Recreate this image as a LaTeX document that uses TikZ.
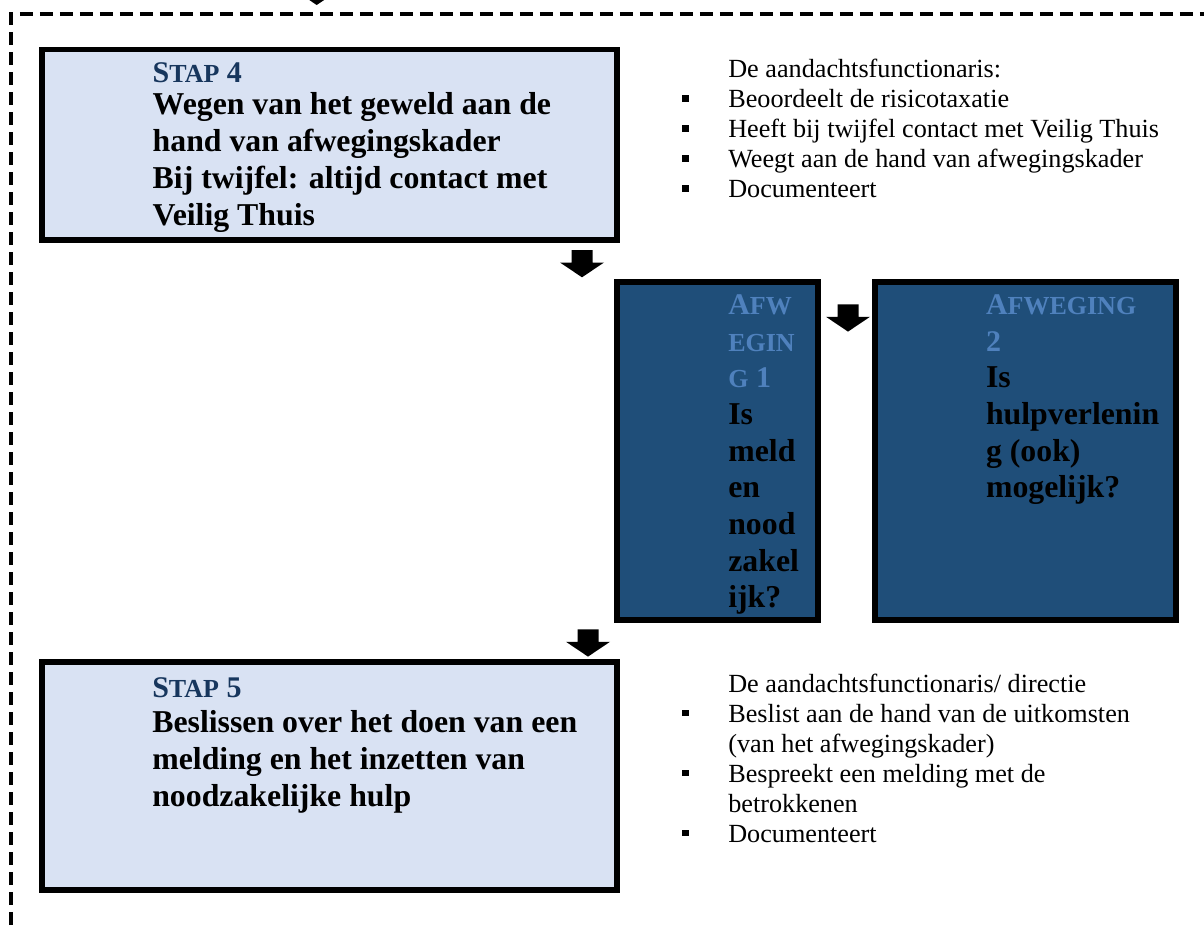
\documentclass[tikz,border=0pt]{standalone}
\usepackage{fontspec}
\setmainfont{Liberation Serif}
\definecolor{lightfill}{HTML}{D9E2F3}
\definecolor{darkfill}{HTML}{1F4E79}
\definecolor{headnavy}{HTML}{17365D}
\definecolor{headlight}{HTML}{4F81BD}
\newcommand\bodyfnt{\fontsize{31.8}{36.8}\selectfont\bfseries}
\newcommand\headfnt{\fontsize{30}{30}\selectfont\bfseries}
\newcommand\smallc[1]{{\fontsize{26}{26}\selectfont #1}}
\newcommand\listfnt{\fontsize{26.2}{30}\selectfont}
\newcommand\vlines[2]{\vtop{\baselineskip=#1pt\lineskiplimit=-100pt\lineskip=0pt #2}}
\tikzset{
  lightbox/.style={draw=black, line width=5.6pt, fill=lightfill, inner sep=0pt},
  darkbox/.style={draw=black, line width=5.8pt, fill=darkfill, inner sep=0pt},
  txt/.style={anchor=base west, inner sep=0pt, outer sep=0pt},
  bulletsq/.style={fill=black, inner sep=0pt, minimum size=6.8pt},
  frame/.style={line width=4.5pt, dash pattern=on 13pt off 7pt},
  blockarrow/.pic={\fill[black] (-10.5,0) -- (10.5,0) -- (10.5,12.5) -- (22,12.5) -- (0,27.3) -- (-22,12.5) -- (-10.5,12.5) -- cycle;}
}
\begin{document}
\begin{tikzpicture}[x=1pt,y=-1pt]
\useasboundingbox (0,0) rectangle (1204,929);
\fill[white] (0,0) rectangle (1204,929);
% dashed frame
\draw[frame] (10.8,945) -- (10.8,14) -- (1220,14);
% top arrow (only tip visible)
\pic (a0) at (316.7,-22.3) {blockarrow};

% Step 4 box
\node[lightbox, minimum width=575.1pt, minimum height=190.7pt] (s4) at (329.65,144.85) {};
\node[txt, text=headnavy] (s4h) at (152.7,82) {\headfnt S\smallc{TAP} 4};
\node[txt] (s4t) at (152.7,114) {\bodyfnt\vlines{37}{\hbox{Wegen van het geweld aan de}\hbox{hand van afwegingskader}\hbox{Bij twijfel: altijd contact met}\hbox{Veilig Thuis}}};

% list 1
\node[txt] (l1) at (728.3,77.5) {\listfnt\vlines{30}{\hbox{De aandachtsfunctionaris:}\hbox{Beoordeelt de risicotaxatie}\hbox{Heeft bij twijfel contact met Veilig Thuis}\hbox{Weegt aan de hand van afwegingskader}\hbox{Documenteert}}};
\node[bulletsq] (b11) at (685.1,98.5) {};
\node[bulletsq] (b12) at (685.1,128.5) {};
\node[bulletsq] (b13) at (685.1,158.5) {};
\node[bulletsq] (b14) at (685.1,188.5) {};

% arrows
\pic (a1) at (582,250) {blockarrow};
\pic (a2) at (848,304.3) {blockarrow};
\pic (a3) at (588,629.3) {blockarrow};

% Afweging 1
\node[darkbox, minimum width=200.9pt, minimum height=337.6pt] (w1) at (717.35,451) {};
\node[txt] (w1t) at (728.3,314.3) {\bodyfnt\vlines{36.7}{%
  \hbox{\color{headlight}\headfnt A\smallc{FW}}%
  \hbox{\color{headlight}\headfnt\smallc{EGIN}}%
  \hbox{\color{headlight}\headfnt\smallc{G} 1}%
  \hbox{Is}\hbox{meld}\hbox{en}\hbox{nood}\hbox{zakel}\hbox{ijk?}}};

% Afweging 2
\node[darkbox, minimum width=301.5pt, minimum height=337.6pt] (w2) at (1025.35,451) {};
\node[txt] (w2t) at (986,314.3) {\bodyfnt\vlines{36.7}{%
  \hbox{\color{headlight}\headfnt A\smallc{FWEGING}}%
  \hbox{\color{headlight}\headfnt 2}%
  \hbox{Is}\hbox{hulpverlenin}\hbox{g (ook)}\hbox{mogelijk?}}};

% Step 5 box
\node[lightbox, minimum width=575.2pt, minimum height=227.6pt] (s5) at (329.5,776) {};
\node[txt, text=headnavy] (s5h) at (152.3,697) {\headfnt S\smallc{TAP} 5};
\node[txt] (s5t) at (152.3,732) {\bodyfnt\vlines{37}{\hbox{Beslissen over het doen van een}\hbox{melding en het inzetten van}\hbox{noodzakelijke hulp}}};

% list 2
\node[txt] (l2) at (728.3,692) {\listfnt\vlines{30}{\hbox{De aandachtsfunctionaris/ directie}\hbox{Beslist aan de hand van de uitkomsten}\hbox{(van het afwegingskader)}\hbox{Bespreekt een melding met de}\hbox{betrokkenen}\hbox{Documenteert}}};
\node[bulletsq] (b21) at (685.1,713) {};
\node[bulletsq] (b22) at (685.1,773) {};
\node[bulletsq] (b23) at (685.1,833) {};
\end{tikzpicture}
\end{document}
